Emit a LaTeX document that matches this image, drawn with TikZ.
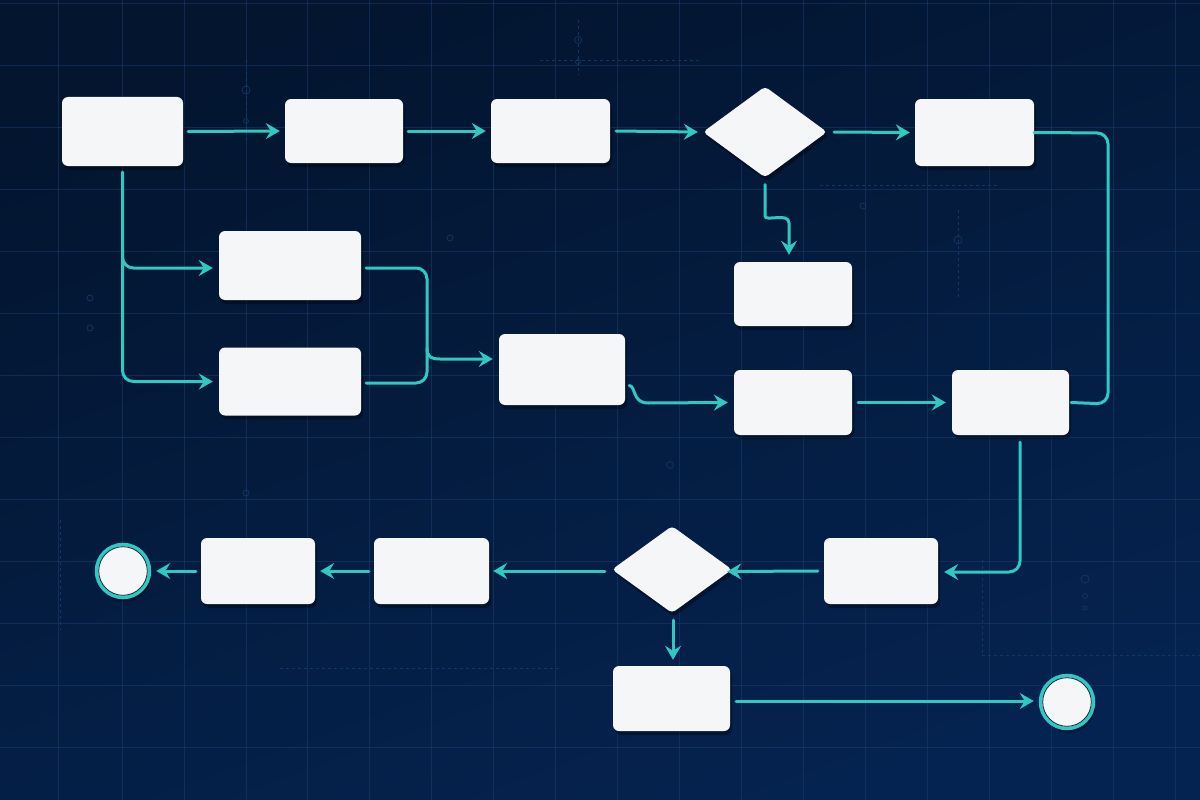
\documentclass[tikz,border=0pt]{standalone}
\usetikzlibrary{arrows.meta,shapes.geometric,shadows,calc}
\definecolor{bgA}{HTML}{03152F}
\definecolor{bgB}{HTML}{052350}
\definecolor{gridc}{HTML}{1A3D6E}
\definecolor{teal}{HTML}{2FC9C2}
\definecolor{boxf}{HTML}{F5F6F8}
\definecolor{navy}{HTML}{0A1E3F}
\tikzset{
  box/.style={draw=none, fill=boxf, rounded corners=6pt, inner sep=0pt,
    drop shadow={shadow xshift=2pt, shadow yshift=-4pt, opacity=0.35, fill=black}},
  dia/.style={diamond, draw=none, fill=boxf, inner sep=0pt, rounded corners=4pt,
    drop shadow={shadow xshift=2pt, shadow yshift=-4pt, opacity=0.35, fill=black}},
  endc/.style={circle, fill=boxf, draw=teal, line width=3.5pt, minimum size=53pt, inner sep=0pt,
    drop shadow={shadow xshift=2pt, shadow yshift=-4pt, opacity=0.35, fill=black}},
  conn/.style={draw=teal, line width=3pt, line cap=round, rounded corners=11pt},
  arr/.style={conn, -{Stealth[length=14pt, width=16pt, inset=5pt]}},
  deco/.style={draw=gridc, line width=0.7pt, opacity=0.8},
}
\begin{document}
\begin{tikzpicture}[x=1pt,y=-1pt]
\useasboundingbox (0,0) rectangle (1200,800);
\shade[top color=bgA, bottom color=bgB, shading angle=20] (0,0) rectangle (1200,800);
% grid
\foreach \x in {58,122,184,246,307,369,431,493,555,617,679,741,803,865,927,989,1051,1113,1175}
  \draw[draw=gridc, line width=0.6pt, opacity=0.55] (\x,0) -- (\x,800);
\foreach \y in {3,65,127,189,251,313,375,437,499,561,623,685,747}
  \draw[draw=gridc, line width=0.6pt, opacity=0.55] (0,\y) -- (1200,\y);
% faint decorations
\draw[deco, dashed] (246,60) -- (246,140);
\draw[deco] (246,90) circle (4); \draw[deco] (246,121) circle (2.5);
\draw[deco, dashed] (578,20) -- (578,75);
\draw[deco] (578,40) circle (3.5); \draw[deco] (578,62) circle (2.5);
\draw[deco, dashed] (540,60) -- (700,60);
\draw[deco] (450,238) circle (3);
\draw[deco] (958,240) circle (4); \draw[deco, dashed] (958,210) -- (958,300);
\draw[deco] (863,206) circle (3); \draw[deco, dashed] (820,185) -- (1000,185);
\draw[deco] (670,465) circle (3.5);
\draw[deco] (246,493) circle (3);
\draw[deco] (90,298) circle (3); \draw[deco] (90,328) circle (3);
\draw[deco] (1085,579) circle (4); \draw[deco] (1085,596) circle (2.5); \draw[deco] (1085,608) circle (2);
\draw[deco, dashed] (982,655) -- (1200,655); \draw[deco, dashed] (982,560) -- (982,655);
\draw[deco, dashed] (280,668) -- (560,668);
\draw[deco, dashed] (60,520) -- (60,630);

% nodes
\node[box, minimum width=121pt, minimum height=69pt] (a) at (122.5,131.5) {};
\node[box, minimum width=118pt, minimum height=64pt] (b) at (344,131) {};
\node[box, minimum width=119pt, minimum height=64pt] (c) at (550.5,131) {};
\node[dia, minimum width=124pt, minimum height=91pt, aspect=1.36] (d) at (765,132) {};
\node[box, minimum width=119pt, minimum height=67pt] (e) at (974.5,132.5) {};
\node[box, minimum width=142pt, minimum height=69pt] (f) at (290,265.5) {};
\node[box, minimum width=142pt, minimum height=68pt] (g) at (290,381.5) {};
\node[box, minimum width=126pt, minimum height=71pt] (h) at (562,369.5) {};
\node[box, minimum width=118pt, minimum height=64pt] (i) at (793,294) {};
\node[box, minimum width=118pt, minimum height=65pt] (j) at (793,402.5) {};
\node[box, minimum width=117pt, minimum height=65pt] (k) at (1010.5,402.5) {};
\node[box, minimum width=114pt, minimum height=66pt] (l) at (881,571) {};
\node[dia, minimum width=120pt, minimum height=87pt, aspect=1.38] (m) at (672,569.5) {};
\node[box, minimum width=115pt, minimum height=66pt] (n) at (431.5,571) {};
\node[box, minimum width=114pt, minimum height=66pt] (o) at (258,571) {};
\node[endc] (p) at (123,571) {};
\draw[navy, line width=0.8pt] (p.center) circle (24.3);
\node[box, minimum width=117pt, minimum height=65pt] (q) at (671.5,698.5) {};
\node[endc] (r) at (1067,702) {};
\draw[navy, line width=0.8pt] (r.center) circle (24.3);

% connectors
\draw[arr] ([xshift=5pt]a.east) -- ([xshift=-5pt]b.west);
\draw[arr] ([xshift=5pt]b.east) -- ([xshift=-5pt]c.west);
\draw[arr] ([xshift=6pt]c.east) -- ([xshift=-5pt]d.west);
\draw[arr] ([xshift=7pt]d.east) -- ([xshift=-5pt]e.west);
\draw[conn] (e.east) -- (1108,133) -- (1108,404) -- ([xshift=2pt]k.east);
\draw[arr] ([yshift=-7pt]d.south) -- (765,205) .. controls (765,222) and (789,212) .. (789,234) -- ([xshift=-4pt,yshift=7pt]i.north);
\draw[arr] ([yshift=-6pt]a.south) |- ([xshift=-6pt]g.west);
\draw[arr] (122.5,250) |- ([xshift=-6pt,yshift=-2.5pt]f.west);
\draw[conn] ([xshift=5pt,yshift=-2.5pt]f.east) -| (427,359);
\draw[conn] ([xshift=5pt,yshift=-1.5pt]g.east) -| (427,359);
\draw[arr, rounded corners=0pt] (427,348) .. controls (427,357) and (431,359) .. (440,359) -- ([xshift=-6pt,yshift=10.5pt]h.west);
\draw[arr, rounded corners=0pt] ([xshift=4pt,yshift=-16pt]h.east) .. controls (636,386) and (632,403) .. (648,403) -- ([xshift=-6pt]j.west);
\draw[arr] ([xshift=6pt]j.east) -- ([xshift=-6pt]k.west);
\draw[arr] ([xshift=9.5pt,yshift=-7pt]k.south) |- ([xshift=6pt,yshift=-1pt]l.east);
\draw[arr] ([xshift=-6pt]l.west) -- ([xshift=-5pt,yshift=-2pt]m.east);
\draw[arr] ([xshift=-7pt,yshift=-1.5pt]m.west) -- ([xshift=4pt]n.east);
\draw[arr] ([xshift=-5pt]n.west) -- ([xshift=5pt]o.east);
\draw[arr] ([xshift=-5pt]o.west) -- ([xshift=5pt]p.east);
\draw[arr] ([xshift=1pt,yshift=-7pt]m.south) -- ([xshift=1.5pt,yshift=6pt]q.north);
\draw[arr] ([xshift=6pt,yshift=-2.5pt]q.east) -- ([xshift=-5pt,yshift=1pt]r.west);
\end{tikzpicture}
\end{document}
